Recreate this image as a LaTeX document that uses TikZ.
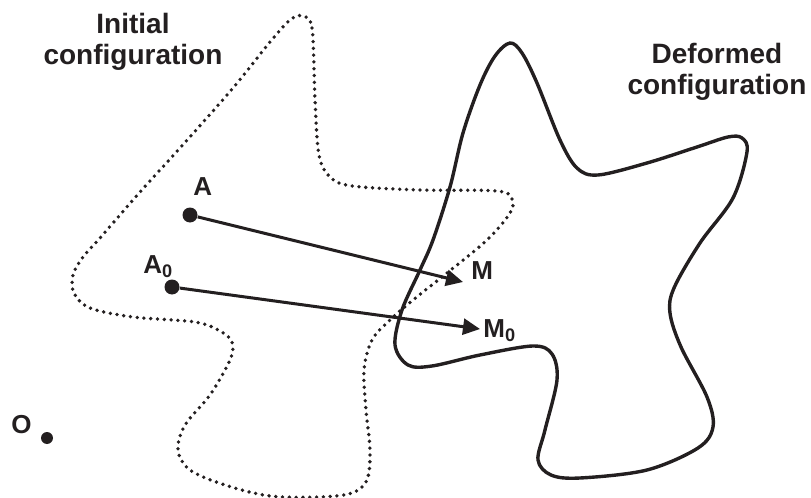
\documentclass[tikz,border=0pt]{standalone}
\usepackage{fontspec}
\setmainfont{Liberation Sans}
\usetikzlibrary{arrows.meta}
\definecolor{ink}{RGB}{35,31,32}
\tikzset{
  title/.style={align=center, text=ink, inner sep=0pt,
                font=\fontsize{14pt}{15.5pt}\selectfont\bfseries},
  lbl/.style={anchor=base west, text=ink, inner sep=0pt,
              font=\fontsize{13pt}{15pt}\selectfont\bfseries},
  pt/.style={circle, fill=ink, inner sep=0pt, minimum size=7.5pt},
  origpt/.style={circle, fill=ink, inner sep=0pt, minimum size=6pt},
  vec/.style={-{Triangle[length=8.5pt,width=8pt]}, line width=1.5pt, draw=ink},
  % dotted outline of the body before deformation
  initial/.style={draw=ink, line width=1.9pt, line cap=round, dash pattern=on 0pt off 3.4pt},
  deformed/.style={draw=ink, line width=1.7pt},
}

\begin{document}
\begin{tikzpicture}[x=0.5pt, y=-0.5pt]
\useasboundingbox (0,0) rectangle (811,498);

%% ── initial configuration (dotted) ──────────────────────────────
\draw[initial] plot[smooth cycle, tension=0.55] coordinates {
  (302,16) (312,28) (315,100) (319,155) (330,177) (352,186) (420,190)
  (497,191) (512,199) (510,213) (487,240) (447,273) (413,300) (390,320)
  (372,340) (364,370) (366,410) (370,450) (367,480) (352,493) (320,497)
  (270,496) (225,485) (190,470) (178,450) (185,425) (210,395) (230,360)
  (232,342) (220,331) (195,322) (133,317) (90,308) (74,293) (73,275)
  (83,257) (100,238) (140,192) (180,148) (233,88) (270,42) (290,20)};

%% ── deformed configuration (solid) ──────────────────────────────
\draw[deformed] plot[smooth cycle, tension=0.55] coordinates {
  (510,43) (495,56) (480,85) (463,133) (450,187) (433,240) (420,270)
  (402,310) (395,345) (408,365) (432,366) (480,355) (533,346) (552,354)
  (557,380) (545,430) (538,460) (551,475) (580,478) (647,470) (698,448)
  (713,427) (707,397) (681,347) (670,313) (674,288) (700,243) (733,198)
  (747,152) (742,138) (728,137) (697,147) (647,163) (598,175) (577,168)
  (560,140) (537,83) (522,53)};

%% ── material points and their displacements ─────────────────────
\node[pt] (A) at (190,215) {};
\node[pt] (A0) at (172,287) {};
\node[origpt] (O) at (47,438) {};
\coordinate (M) at (463,282);
\coordinate (M0) at (480,329);

\draw[vec] (A) -- (M);
\draw[vec] (A0) -- (M0);

\node[lbl] (labA) at (193,195) {A};
\node[lbl] (labA0) at (143,273) {A\textsubscript{0}};
\node[lbl] (labM) at (471,279) {M};
\node[lbl] (labM0) at (483,337) {M\textsubscript{0}};
\node[lbl] (labO) at (11,433) {O};

%% ── titles ──────────────────────────────────────────────────────
\node[title] (tinit) at (133,42) {Initial\\configuration};
\node[title] (tdef) at (717,72) {Deformed\\configuration};

\end{tikzpicture}
\end{document}
